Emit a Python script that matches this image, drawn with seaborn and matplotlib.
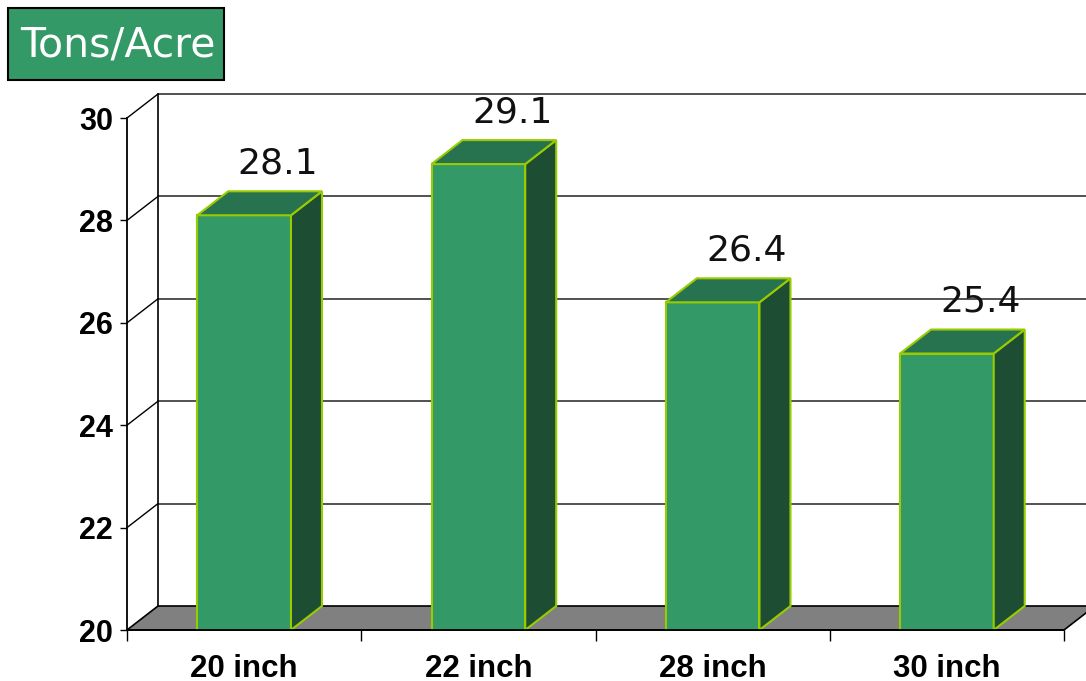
import matplotlib
matplotlib.use("Agg")
import matplotlib.pyplot as plt
from matplotlib.patches import Polygon, Rectangle
import seaborn as sns
import pandas as pd

# data
categories = ["20 inch", "22 inch", "28 inch", "30 inch"]
tons_per_acre = [28.1, 29.1, 26.4, 25.4]
y_ticks = [20, 22, 24, 26, 28, 30]

FRONT = "#339966"
TOP = "#277350"
SIDE = "#1d4d33"
EDGE = "#99cc00"
FLOOR = "#808080"


def main():
    sns.set_theme(style="white")
    plt.rcParams["font.family"] = ["DejaVu Sans"]

    W, H = 1086, 681
    fig = plt.figure(figsize=(W / 100, H / 100), dpi=100)
    ax = fig.add_axes([127 / W, 51 / H, (1064 - 127) / W, (630 - 118) / H])

    df = pd.DataFrame({"spacing": categories, "tons": tons_per_acre})
    sns.barplot(data=df, x="spacing", y="tons", width=0.4, color=FRONT,
                saturation=1, edgecolor=EDGE, linewidth=1.5, ax=ax, zorder=3)

    ax.set_xlim(-0.5, len(categories) - 0.5)
    ax.set_ylim(20, 30)

    # depth offset of the 3d look, 31 px right and 24 px up
    dx = 31 / (ax.get_position().width * W / len(categories))
    dy = 24 / (ax.get_position().height * H / 10)
    x_lo, x_hi = -0.5, len(categories) - 0.5

    bars = list(ax.patches)

    # floor
    ax.add_patch(Polygon([(x_lo, 20), (x_hi, 20), (x_hi + dx, 20 + dy), (x_lo + dx, 20 + dy)],
                         closed=True, facecolor=FLOOR, edgecolor="black", lw=1.2,
                         clip_on=False, zorder=1))

    # back wall grid and left wall diagonals
    for t in y_ticks[1:]:
        ax.plot([x_lo + dx, x_hi + dx + 1], [t + dy, t + dy], color="#333333", lw=1.2,
                clip_on=False, zorder=1)
        ax.plot([x_lo, x_lo + dx], [t, t + dy], color="black", lw=1.0,
                clip_on=False, zorder=1)
    ax.plot([x_lo + dx, x_lo + dx], [20 + dy, 30 + dy], color="black", lw=1.2,
            clip_on=False, zorder=1)

    # top and side faces of the bars
    for p, v in zip(bars, tons_per_acre):
        x0 = p.get_x()
        x1 = x0 + p.get_width()
        h = p.get_height()
        ax.add_patch(Polygon([(x1, 20), (x1 + dx, 20 + dy), (x1 + dx, h + dy), (x1, h)],
                             closed=True, facecolor=SIDE, edgecolor=EDGE, lw=1.5,
                             clip_on=False, zorder=4))
        ax.add_patch(Polygon([(x0, h), (x1, h), (x1 + dx, h + dy), (x0 + dx, h + dy)],
                             closed=True, facecolor=TOP, edgecolor=EDGE, lw=1.5,
                             clip_on=False, zorder=4))
        ax.annotate(f"{v:.1f}", xy=(x0 + p.get_width() / 2 + dx, h + dy),
                    xytext=(2, 13), textcoords="offset points",
                    ha="center", va="baseline", fontsize=26, color="#111111", zorder=5)

    # axes styling
    for s in ["top", "right"]:
        ax.spines[s].set_visible(False)
    for s in ["left", "bottom"]:
        ax.spines[s].set_color("black")
        ax.spines[s].set_linewidth(1.3)
        ax.spines[s].set_zorder(6)

    ax.set_yticks(y_ticks)
    ax.set_yticklabels([str(t) for t in y_ticks], fontsize=22, fontweight="bold",
                       family="Liberation Sans", color="black")
    ax.tick_params(axis="y", direction="out", length=5, width=1, pad=5, left=True,
                   color="black")
    ax.set_xticks(range(len(categories)))
    ax.set_xticklabels(categories, fontsize=22.5, fontweight="bold",
                       family="Liberation Sans", color="black")
    ax.tick_params(axis="x", which="major", length=0, pad=17)
    ax.set_xticks([i - 0.5 for i in range(len(categories) + 1)], minor=True)
    ax.tick_params(axis="x", which="minor", direction="out", length=8, width=1,
                   bottom=True, color="black")
    ax.set_xlabel("")
    ax.set_ylabel("")
    ax.grid(False)

    # title box
    fig.patches.append(Rectangle((8 / W, 1 - 80 / H), 216 / W, 72 / H,
                                 transform=fig.transFigure, facecolor=FRONT,
                                 edgecolor="black", lw=1.5))
    fig.text(118 / W, 1 - 46 / H, "Tons/Acre", ha="center", va="center",
             fontsize=29.5, color="white")

    fig.savefig("out.png", dpi=100)
    plt.close(fig)


if __name__ == "__main__":
    main()
